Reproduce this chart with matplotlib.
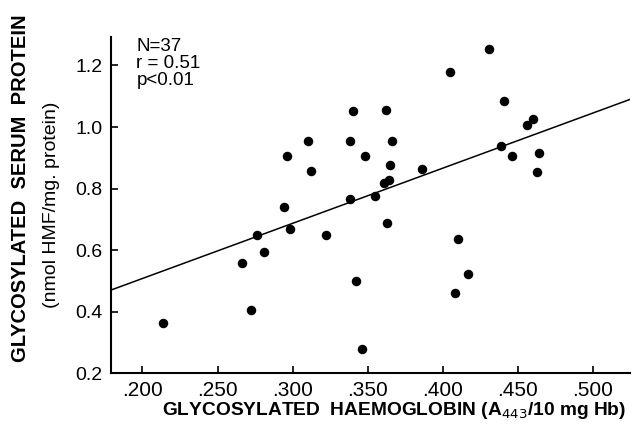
import numpy as np
import matplotlib
matplotlib.use('Agg')
import matplotlib.pyplot as plt

# values
hb = [0.431, 0.405, 0.441, 0.340, 0.362, 0.460, 0.456, 0.310, 0.338, 0.366,
      0.439, 0.348, 0.446, 0.464, 0.365, 0.312, 0.386, 0.463, 0.364, 0.361,
      0.338, 0.355, 0.296, 0.294, 0.298, 0.276, 0.281, 0.266, 0.272, 0.214,
      0.363, 0.322, 0.410, 0.342, 0.417, 0.408, 0.346]
serum = [1.254, 1.180, 1.084, 1.052, 1.054, 1.026, 1.007, 0.953, 0.953, 0.953,
         0.939, 0.905, 0.905, 0.915, 0.877, 0.857, 0.863, 0.854, 0.828, 0.817,
         0.767, 0.775, 0.906, 0.741, 0.669, 0.648, 0.594, 0.557, 0.406, 0.364,
         0.689, 0.649, 0.636, 0.500, 0.523, 0.461, 0.280]

line_x = [0.179, 0.525]
line_y = [0.47, 1.09]

x_ticks = [0.200, 0.250, 0.300, 0.350, 0.400, 0.450, 0.500]
x_labels = ['.200', '.250', '.300', '.350', '.400', '.450', '.500']
y_ticks = [0.2, 0.4, 0.6, 0.8, 1.0, 1.2]
y_labels = ['0.2', '0.4', '0.6', '0.8', '1.0', '1.2']

plt.rcParams['font.family'] = ['Liberation Sans', 'DejaVu Sans']

fig = plt.figure(figsize=(6.34, 4.24), dpi=100)
ax = fig.add_axes([0.175, 0.12, 0.819, 0.793])

ax.scatter(hb, serum, s=34, color='black', zorder=3)
ax.plot(line_x, line_y, color='black', lw=1.1)

ax.set_xlim(0.179, 0.525)
ax.set_ylim(0.2, 1.293)
ax.set_xticks(x_ticks)
ax.set_xticklabels(x_labels, fontsize=15)
ax.set_yticks(y_ticks)
ax.set_yticklabels(y_labels, fontsize=14)
ax.tick_params(direction='in', length=5, width=1.2, pad=6)

for s in ['top', 'right']:
    ax.spines[s].set_visible(False)
for s in ['left', 'bottom']:
    ax.spines[s].set_linewidth(1.5)

ax.text(0.196, 1.29, 'N=37\nr = 0.51\np<0.01', fontsize=13.5, va='top',
        linespacing=1.0)

fig.text(0.032, 0.557, 'GLYCOSYLATED  SERUM  PROTEIN', rotation=90,
         ha='center', va='center', fontsize=14.5, fontweight='bold')
fig.text(0.082, 0.516, '(nmol HMF/mg. protein)', rotation=90,
         ha='center', va='center', fontsize=14)
fig.text(0.256, 0.033, r'GLYCOSYLATED  HAEMOGLOBIN (A$_{443}$/10 mg Hb)',
         ha='left', va='center', fontsize=13.8, fontweight='bold')

fig.savefig('out.png', dpi=100)
